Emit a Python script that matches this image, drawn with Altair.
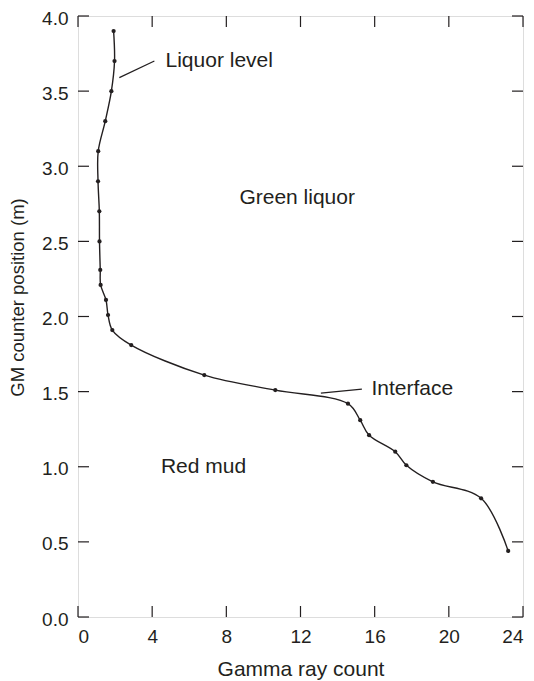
import altair as alt
import pandas as pd

# Measured points (Gamma ray count, GM counter position in m)
gamma = [1.92, 1.97, 1.80, 1.47, 1.09, 1.08, 1.15, 1.16, 1.20, 1.22, 1.51, 1.62, 1.85,
         2.87, 6.81, 10.64, 14.56, 15.22, 15.70, 17.11, 17.71, 19.14, 21.74, 23.20]
position = [3.90, 3.70, 3.50, 3.30, 3.10, 2.90, 2.70, 2.50, 2.31, 2.21, 2.11, 2.01, 1.91,
            1.81, 1.61, 1.51, 1.42, 1.31, 1.21, 1.10, 1.01, 0.90, 0.79, 0.44]

# Annotation labels
ann_text = ["Liquor level", "Interface", "Green liquor", "Red mud"]
ann_x = [4.72, 15.83, 11.82, 6.77]
ann_y = [3.70, 1.516, 2.79, 1.00]
ann_align = ["left", "left", "center", "center"]

# Leader lines
lead_x = [2.23, 13.10]
lead_y = [3.59, 1.49]
lead_x2 = [4.12, 15.31]
lead_y2 = [3.70, 1.516]

x_ticks = [0, 4, 8, 12, 16, 20, 24]
y_ticks = [0.0, 0.5, 1.0, 1.5, 2.0, 2.5, 3.0, 3.5, 4.0]

W, H = 445, 601
TICK = 11
FONT = "Liberation Sans"
INK = "#231f20"

df = pd.DataFrame({"gamma": gamma, "pos": position, "idx": list(range(len(gamma)))})
ann = pd.DataFrame({"t": ann_text, "x": ann_x, "y": ann_y, "a": ann_align})
lead = pd.DataFrame({"x": lead_x, "y": lead_y, "x2": lead_x2, "y2": lead_y2})
xt = pd.DataFrame({"v": x_ticks})
yt = pd.DataFrame({"v": y_ticks})

xs = alt.Scale(domain=[0, 24], nice=False, zero=False)
ys = alt.Scale(domain=[0, 4], nice=False, zero=False)

xaxis = alt.Axis(values=x_ticks, title="Gamma ray count", ticks=False, tickSize=0,
                 domain=False, grid=False, labelPadding=10, titlePadding=12,
                 labelFontSize=19, titleFontSize=21, labelFont=FONT, titleFont=FONT,
                 labelColor=INK, titleColor=INK, titleFontWeight="normal")
yaxis = alt.Axis(values=y_ticks, format=".1f", title="GM counter position (m)", ticks=False,
                 tickSize=0, domain=False, grid=False, labelPadding=10, labelOffset=2,
                 titlePadding=14, titleY=281, titleAlign="center",
                 labelFontSize=19, titleFontSize=18.5, labelFont=FONT, titleFont=FONT,
                 labelColor=INK, titleColor=INK, titleFontWeight="normal")

line = alt.Chart(df).mark_line(interpolate="catmull-rom", color=INK, strokeWidth=1.4).encode(
    x=alt.X("gamma:Q", scale=xs, axis=xaxis),
    y=alt.Y("pos:Q", scale=ys, axis=yaxis),
    order="idx:Q",
)
pts = alt.Chart(df).mark_circle(color=INK, size=18, opacity=1).encode(
    x=alt.X("gamma:Q", scale=xs), y=alt.Y("pos:Q", scale=ys))

leads = alt.Chart(lead).mark_rule(color=INK, strokeWidth=1.2).encode(
    x=alt.X("x:Q", scale=xs), y=alt.Y("y:Q", scale=ys), x2="x2:Q", y2="y2:Q")

texts = []
for al in ["left", "center"]:
    texts.append(alt.Chart(ann[ann["a"] == al]).mark_text(
        align=al, baseline="middle", fontSize=21, font=FONT, color=INK).encode(
        x=alt.X("x:Q", scale=xs), y=alt.Y("y:Q", scale=ys), text="t:N"))

left_t = alt.Chart(yt).mark_rule(color=INK, strokeWidth=1.2).encode(
    y=alt.Y("v:Q", scale=ys), x=alt.value(0), x2=alt.value(TICK))
right_t = alt.Chart(yt).mark_rule(color=INK, strokeWidth=1.2).encode(
    y=alt.Y("v:Q", scale=ys), x=alt.value(W - TICK), x2=alt.value(W))
bot_t = alt.Chart(xt).mark_rule(color=INK, strokeWidth=1.2).encode(
    x=alt.X("v:Q", scale=xs), y=alt.value(H), y2=alt.value(H - TICK))
top_t = alt.Chart(xt).mark_rule(color=INK, strokeWidth=1.2).encode(
    x=alt.X("v:Q", scale=xs), y=alt.value(0), y2=alt.value(TICK))

chart = alt.layer(line, pts, leads, *texts, left_t, right_t, bot_t, top_t).properties(
    width=W, height=H,
    autosize=alt.AutoSizeParams(type="none"),
    padding={"left": 70, "top": 8, "right": 3, "bottom": 64},
).configure_view(stroke=INK, strokeWidth=1.4).configure(background="white")

chart.save("out.html", embed_options={"renderer": "svg", "actions": False})
